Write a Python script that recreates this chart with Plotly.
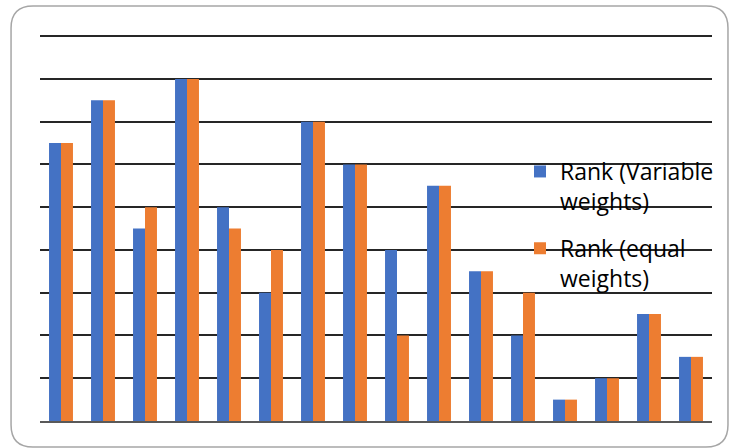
import plotly.graph_objects as go

categories = [str(i) for i in range(1, 17)]
rank_variable = [6.5, 7.5, 4.5, 8, 5, 3, 7, 6, 4, 5.5, 3.5, 2, 0.5, 1, 2.5, 1.5]
rank_equal = [6.5, 7.5, 5, 8, 4.5, 4, 7, 6, 2, 5.5, 3.5, 3, 0.5, 1, 2.5, 1.5]
series_names = ["Rank (Variable<br>weights)", "Rank (equal<br>weights)"]
colors = ["#4472C4", "#ED7D31"]

W, H = 730, 448
L, R, T, B = 40, 17, 34, 27
pw, ph = W - L - R, H - T - B

def px2paper(x, y):
    return (x - L) / pw, (H - B - y) / ph

fig = go.Figure()
for name, vals, col, grp in zip(series_names, [rank_variable, rank_equal], colors, ["a", "b"]):
    fig.add_trace(go.Bar(x=categories, y=vals, name=name, marker_color=col,
                         marker_line_width=0, legendgroup=grp))

# rounded border of chart area
x0, y0, x1, y1, r = 11, 6, 729, 447, 22
def P(x, y):
    a, b = px2paper(x, y)
    return f"{a:.5f},{b:.5f}"
path = (f"M {P(x0 + r, y0)} L {P(x1 - r, y0)} Q {P(x1, y0)} {P(x1, y0 + r)} "
        f"L {P(x1, y1 - r)} Q {P(x1, y1)} {P(x1 - r, y1)} "
        f"L {P(x0 + r, y1)} Q {P(x0, y1)} {P(x0, y1 - r)} "
        f"L {P(x0, y0 + r)} Q {P(x0, y0)} {P(x0 + r, y0)} Z")
fig.add_shape(type="path", path=path, xref="paper", yref="paper",
              line=dict(color="#A6A6A6", width=1.5), layer="below")

lx, ly = px2paper(520, 150)
fig.update_layout(
    width=W, height=H,
    margin=dict(l=L, r=R, t=T, b=B),
    paper_bgcolor="white", plot_bgcolor="white",
    barmode="group", bargap=0.43, bargroupgap=0,
    showlegend=True,
    legend=dict(x=lx, y=ly, xanchor="left", yanchor="top",
                bgcolor="rgba(0,0,0,0)", font=dict(family="Open Sans", size=23, color="black"),
                tracegroupgap=14, valign="top", itemclick=False),
    xaxis=dict(showticklabels=False, showgrid=False, ticks="", zeroline=False,
               showline=True, linecolor="#595959", linewidth=2),
    yaxis=dict(range=[0, 9.05], tickvals=list(range(1, 10)), showticklabels=False, ticks="",
               showgrid=True, gridcolor="#262626", gridwidth=1.5,
               zeroline=False, showline=False),
)
fig.write_html("out.html")
